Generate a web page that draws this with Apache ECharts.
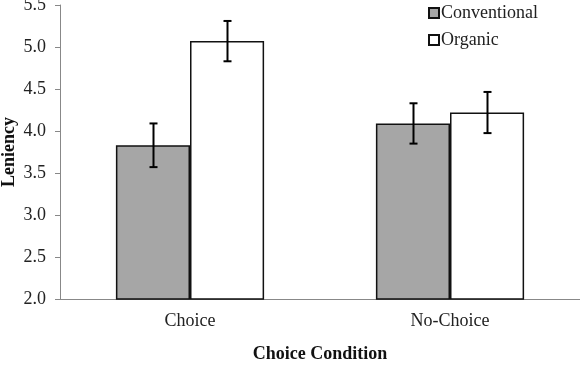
<!DOCTYPE html>
<html>
<head>
<meta charset="utf-8">
<script src="https://cdn.jsdelivr.net/npm/echarts@6/dist/echarts.min.js"></script>
<style>
  html, body { margin: 0; padding: 0; background: #fff; }
  #chart { width: 580px; height: 365px; }
</style>
</head>
<body>
<div id="chart"></div>
<script>
  var categories = ['Choice', 'No-Choice'];
  var conventional = [3.83, 4.09];
  var conventionalErr = [0.26, 0.24];
  var organic = [5.07, 4.22];
  var organicErr = [0.24, 0.245];

  var font = '"Liberation Serif", "Times New Roman", serif';
  var chart = echarts.init(document.getElementById('chart'));

  function errorBars(values, errs, side) {
    return {
      type: 'custom',
      silent: true,
      z: 10,
      data: values.map(function (v, i) { return [i, v - errs[i], v + errs[i]]; }),
      renderItem: function (params, api) {
        var band = api.size([1, 0])[0];
        var barW = band * (1 - 0.43) / 2;
        var lo = api.coord([api.value(0), api.value(1)]);
        var hi = api.coord([api.value(0), api.value(2)]);
        var x = Math.round(lo[0] + side * barW / 2) + 0.5;
        var style = { stroke: '#000', lineWidth: 2 };
        return {
          type: 'group',
          children: [
            { type: 'line', shape: { x1: x, y1: lo[1], x2: x, y2: hi[1] }, style: style },
            { type: 'line', shape: { x1: x - 4, y1: lo[1], x2: x + 4, y2: lo[1] }, style: style },
            { type: 'line', shape: { x1: x - 4, y1: hi[1], x2: x + 4, y2: hi[1] }, style: style }
          ]
        };
      }
    };
  }

  chart.setOption({
    animation: false,
    backgroundColor: '#fff',
    textStyle: { fontFamily: font, color: '#222' },
    grid: { left: 60, right: 0, top: 5, bottom: 66, containLabel: false, outerBoundsMode: 'none' },
    legend: {
      orient: 'vertical',
      left: 423,
      top: -1,
      itemWidth: 10,
      itemHeight: 10,
      itemGap: 9,
      icon: 'rect',
      textStyle: { fontFamily: font, fontSize: 18, color: '#222', padding: [0, 0, 0, -3] },
      data: ['Conventional', 'Organic']
    },
    xAxis: {
      type: 'category',
      data: categories,
      name: 'Choice Condition',
      nameLocation: 'middle',
      nameGap: 46,
      nameMoveOverlap: false,
      nameTextStyle: { fontFamily: font, fontSize: 18, fontWeight: 'bold', color: '#111' },
      axisLine: { lineStyle: { color: '#888', width: 1 } },
      axisTick: { show: false },
      axisLabel: { fontFamily: font, fontSize: 18, color: '#222', margin: 13 }
    },
    yAxis: {
      type: 'value',
      min: 2,
      max: 5.5,
      interval: 0.5,
      name: 'Leniency',
      nameLocation: 'middle',
      nameGap: 42,
      nameMoveOverlap: false,
      nameTextStyle: { fontFamily: font, fontSize: 18, fontWeight: 'bold', color: '#111' },
      axisLine: { show: true, lineStyle: { color: '#888', width: 1 } },
      axisTick: { show: true, length: 5, lineStyle: { color: '#888' } },
      splitLine: { show: false },
      axisLabel: {
        fontFamily: font, fontSize: 18, color: '#222', margin: 14,
        formatter: function (v) { return v.toFixed(1); }
      }
    },
    series: [
      {
        name: 'Conventional',
        type: 'bar',
        data: conventional,
        barGap: '0%',
        barCategoryGap: '43%',
        itemStyle: { color: '#a6a6a6', borderColor: '#111', borderWidth: 1.5 }
      },
      {
        name: 'Organic',
        type: 'bar',
        data: organic,
        barGap: '0%',
        barCategoryGap: '43%',
        itemStyle: { color: '#fff', borderColor: '#111', borderWidth: 1.5 }
      },
      errorBars(conventional, conventionalErr, -1),
      errorBars(organic, organicErr, 1)
    ]
  });
</script>
</body>
</html>
